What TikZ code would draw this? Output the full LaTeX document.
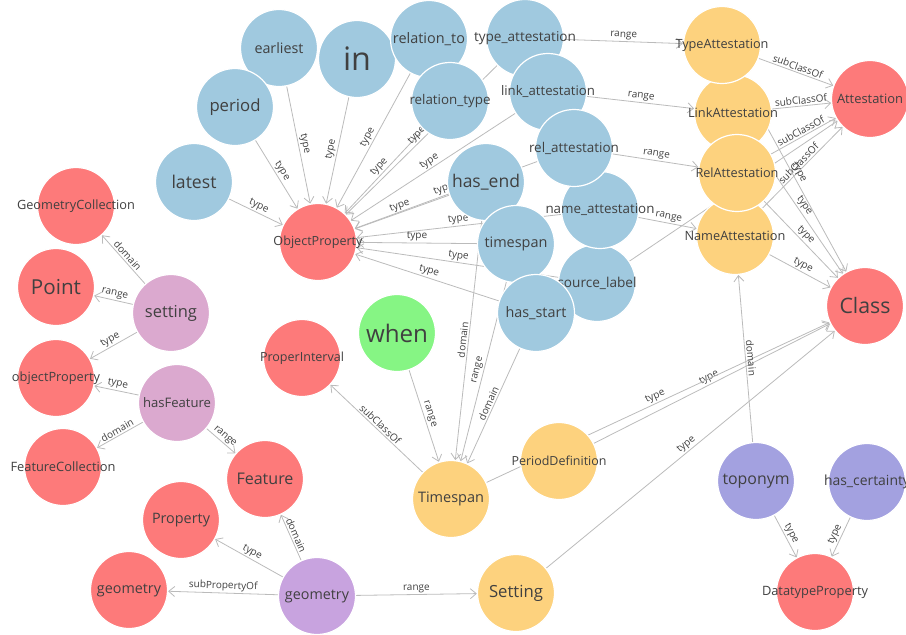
\documentclass[tikz,border=0pt]{standalone}
\usepackage{fontspec}
\setmainfont{Open Sans}
\usetikzlibrary{arrows.meta}
\pgfdeclarelayer{bg}
\pgfsetlayers{bg,main}
\definecolor{cblue}{HTML}{A0C9DF}
\definecolor{cred}{HTML}{FD7A7A}
\definecolor{cyel}{HTML}{FDD27E}
\definecolor{cgreen}{HTML}{86F584}
\definecolor{cpink}{HTML}{DBA9CF}
\definecolor{cpurp}{HTML}{C8A3DF}
\definecolor{clav}{HTML}{A3A1E0}
\definecolor{ctext}{HTML}{404040}
\definecolor{cline}{HTML}{BBBBBB}
\newcommand\tw[2]{\makebox[0pt]{\resizebox{#1pt}{!}{#2}}}
\begin{document}
\begin{tikzpicture}[x=1pt,y=-1pt,
 nd/.style={circle,minimum size=77pt,inner sep=0pt,draw=white,line width=1.2pt,text=ctext},
 bl/.style={nd,fill=cblue},
 rd/.style={nd,fill=cred},
 ye/.style={nd,fill=cyel},
 gr/.style={nd,fill=cgreen},
 pk/.style={nd,fill=cpink},
 pu/.style={nd,fill=cpurp},
 lv/.style={nd,fill=clav},
 edge/.style={draw=cline,line width=0.8pt,-{Straight Barb[length=6pt,width=10pt]}},
 lbl/.style={sloped,above,font=\fontsize{10}{10}\selectfont,text=ctext,inner sep=1.5pt}]
\useasboundingbox (0,0) rectangle (906,635);
% blue property nodes
\node[bl] (earliest) at (279,48) {\tw{49}{earliest}};
\node[bl] (nin) at (357,59) {\tw{28}{in}};
\node[bl] (relto) at (429,39) {\tw{72}{relation\_to}};
\node[bl] (reltype) at (450,101) {\tw{81}{relation\_type}};
\node[bl] (typeatt) at (525,38) {\tw{102}{type\_attestation}};
\node[bl] (linkatt) at (548,92) {\tw{94}{link\_attestation}};
\node[bl] (hasend) at (486,182) {\tw{68}{has\_end}};
\node[bl] (srclabel) at (597,283) {\tw{79}{source\_label}};
\node[bl] (nameatt) at (600,210) {\tw{109}{name\_attestation}};
\node[bl] (relatt) at (574,148) {\tw{90}{rel\_attestation}};
\node[bl] (timespan) at (516,244) {\tw{63}{timespan}};
\node[bl] (hasstart) at (536,313) {\tw{61}{has\_start}};
\node[bl] (period) at (235,107) {\tw{51}{period}};
\node[bl] (latest) at (194,182) {\tw{45}{latest}};
% red class nodes
\node[rd] (OP) at (318,242) {\tw{89}{ObjectProperty}};
\node[rd] (GC) at (76,206) {\tw{118}{GeometryCollection}};
\node[rd] (Point) at (56,287) {\tw{50}{Point}};
\node[rd] (oP) at (56,378) {\tw{88}{objectProperty}};
\node[rd] (FC) at (63,467) {\tw{105}{FeatureCollection}};
\node[rd] (Feature) at (265,479) {\tw{57}{Feature}};
\node[rd] (Property) at (181,520) {\tw{58}{Property}};
\node[rd] (geomr) at (129,590) {\tw{64}{geometry}};
\node[rd] (PI) at (302,358) {\tw{84}{ProperInterval}};
\node[rd] (Att) at (870,99) {\tw{66}{Attestation}};
\node[rd] (Class) at (865,306) {\tw{51}{Class}};
\node[rd] (DP) at (815,592) {\tw{106}{DatatypeProperty}};
% yellow nodes
\node[ye] (LinkA) at (733,113) {\tw{90}{LinkAttestation}};
\node[ye] (TypeA) at (722,45) {\tw{93}{TypeAttestation}};
\node[ye] (NameA) at (735,236) {\tw{101}{NameAttestation}};
\node[ye] (RelA) at (737,173) {\tw{83}{RelAttestation}};
\node[ye] (Timespan) at (451,499) {\tw{66}{Timespan}};
\node[ye] (PD) at (559,461) {\tw{95}{PeriodDefinition}};
\node[ye] (Setting) at (516,593) {\tw{54}{Setting}};
% others
\node[gr] (when) at (397,333) {\tw{62}{when}};
\node[pk] (setting) at (171,313) {\tw{52}{setting}};
\node[pk] (hasF) at (177,403) {\tw{68}{hasFeature}};
\node[pu] (geomp) at (317,596) {\tw{64}{geometry}};
\node[lv] (toponym) at (756,481) {\tw{67}{toponym}};
\node[lv] (hascert) at (867,482) {\tw{86}{has\_certainty}};
\begin{pgfonlayer}{bg}
% type -> ObjectProperty
\foreach \s in {latest,period,earliest,nin,relto,reltype,typeatt,linkatt,relatt,hasend,nameatt,timespan,srclabel,hasstart}
  \draw[edge] (\s) -- node[lbl]{type} (OP);
% ranges to attestations
\draw[edge] (typeatt) -- node[lbl]{range} (TypeA);
\draw[edge] (linkatt) -- node[lbl]{range} (LinkA);
\draw[edge] (relatt) -- node[lbl]{range} (RelA);
\draw[edge] (nameatt) -- node[lbl]{range} (NameA);
% subclass of Attestation
\foreach \s in {TypeA,LinkA,RelA,NameA}
  \draw[edge] (\s) -- node[lbl]{subClassOf} (Att);
\draw[edge] (srclabel) -- (Att);
% types to Class
\foreach \s in {TypeA,LinkA,RelA,NameA,PD,Timespan,Setting}
  \draw[edge] (\s) -- node[lbl]{type} (Class);
\draw[edge] (toponym) -- node[lbl]{domain} (NameA);
\draw[edge] (toponym) -- node[lbl]{type} (DP);
\draw[edge] (hascert) -- node[lbl]{type} (DP);
% Timespan
\draw[edge] (hasend) -- node[lbl]{domain} (Timespan);
\draw[edge] (timespan) -- node[lbl]{range} (Timespan);
\draw[edge] (hasstart) -- node[lbl]{domain} (Timespan);
\draw[edge] (when) -- node[lbl]{range} (Timespan);
\draw[edge] (Timespan) -- node[lbl]{subClassOf} (PI);
% geometry
\draw[edge] (geomp) -- node[lbl]{range} (Setting);
\draw[edge] (geomp) -- node[lbl]{subPropertyOf} (geomr);
\draw[edge] (geomp) -- node[lbl]{type} (Property);
\draw[edge] (geomp) -- node[lbl]{domain} (Feature);
% hasFeature
\draw[edge] (hasF) -- node[lbl]{range} (Feature);
\draw[edge] (hasF) -- node[lbl]{domain} (FC);
\draw[edge] (hasF) -- node[lbl]{type} (oP);
% setting
\draw[edge] (setting) -- node[lbl]{type} (oP);
\draw[edge] (setting) -- node[lbl]{range} (Point);
\draw[edge] (setting) -- node[lbl]{domain} (GC);
\end{pgfonlayer}
\end{tikzpicture}
\end{document}
